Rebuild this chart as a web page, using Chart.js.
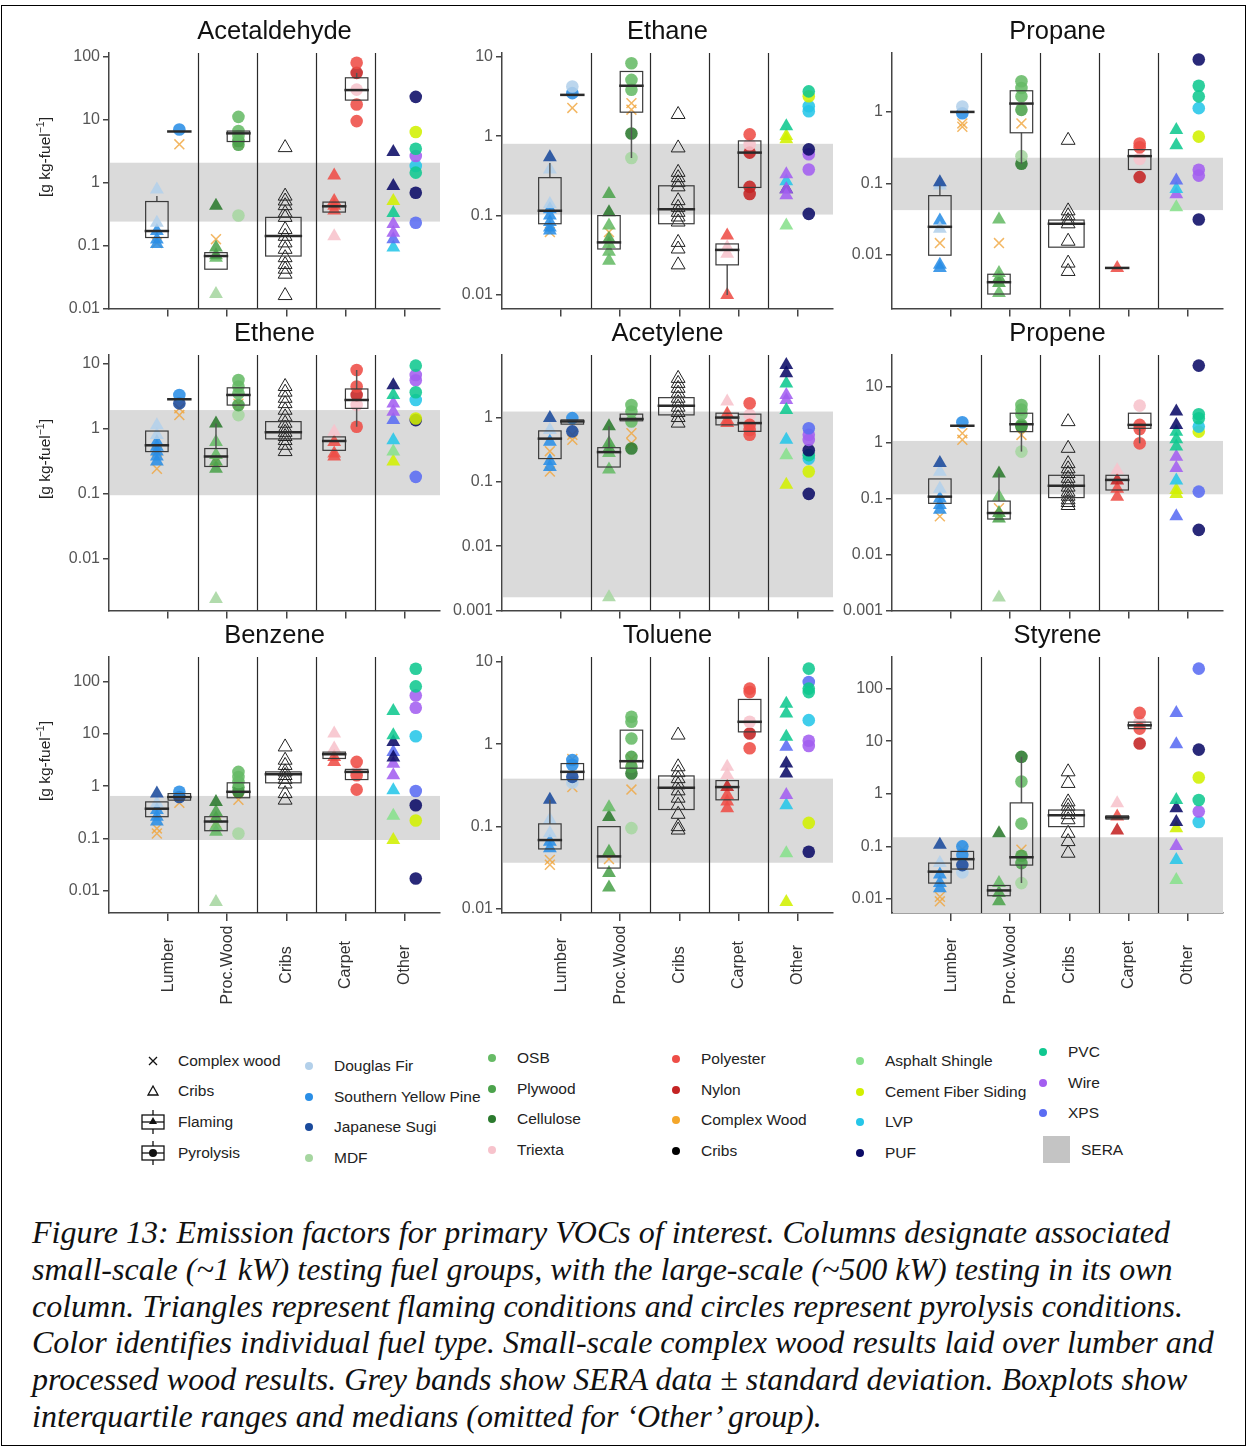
<!DOCTYPE html>
<html>
<head>
<meta charset="utf-8">
<script src="https://cdn.jsdelivr.net/npm/chart.js@4.4.1/dist/chart.umd.min.js"></script>
<style>
  body { margin: 0; width: 1248px; height: 1447px; background: #fff; position: relative; overflow: hidden; font-family: "Liberation Sans", Arial, sans-serif; }
  #moldura { position: absolute; left: 1px; top: 5px; width: 1245px; height: 1441px; border: 1.5px solid #000; box-sizing: border-box; }
  canvas { position: absolute; }
  .leg { position: absolute; font-size: 15.5px; color: #222; white-space: nowrap; line-height: 18px; }
  .ponto { position: absolute; width: 8px; height: 8px; border-radius: 50%; }
  .linha { position: absolute; left: 32px; font-family: "Liberation Serif", "Times New Roman", serif; font-style: italic; font-size: 32px; line-height: 36px; color: #111; white-space: nowrap; }
</style>
</head>
<body>
<div id="moldura"></div>
<div id="legenda"></div>
<div id="legenda-texto"></div>
<script>
const grupos = ['Lumber', 'Proc.Wood', 'Cribs', 'Carpet', 'Other'];
const compostos = ['Acetaldehyde', 'Ethane', 'Propane', 'Ethene', 'Acetylene', 'Propene', 'Benzene', 'Toluene', 'Styrene'];
const eixoMin = [0.01, 0.0068, 0.00176, 0.0016, 0.001, 0.001, 0.0037, 0.0088, 0.0054];
const eixoMax = [115, 11.1, 6.7, 13.4, 9.4, 36.8, 300, 11.5, 398];
const seraMin = [0.24, 0.103, 0.042, 0.094, 0.0016, 0.119, 0.093, 0.036, 0.0001];
const seraMax = [2.07, 0.8, 0.228, 1.91, 1.24, 1.07, 0.65, 0.38, 0.149];
const decadas = [0.001, 0.01, 0.1, 1, 10, 100];

const combustiveis = ['DF', 'SYP', 'JS', 'MDF', 'OSB', 'PLY', 'CEL', 'TRI', 'POL', 'NYL', 'CW', 'CRB', 'ASH', 'CFS', 'LVP', 'PUF', 'PVC', 'WIR', 'XPS'];
const nomesCombustiveis = ['Douglas Fir', 'Southern Yellow Pine', 'Japanese Sugi', 'MDF', 'OSB', 'Plywood', 'Cellulose', 'Triexta', 'Polyester', 'Nylon', 'Complex Wood', 'Cribs', 'Asphalt Shingle', 'Cement Fiber Siding', 'LVP', 'PUF', 'PVC', 'Wire', 'XPS'];
const coresCombustiveis = ['#b3d0ea', '#2a8ee6', '#1a4a9c', '#a6d6a0', '#67bb66', '#4ca34c', '#2b7a2e', '#f7c3cc', '#ee4d47', '#c42323', '#f4a62a', '#000000', '#88e08c', '#d2f000', '#26c6e8', '#0b0b66', '#10c890', '#a35ef0', '#5a6cf3'];

// [grupo, condicao (F = flaming, P = pyrolysis), combustivel, valores]
const pontosAcetaldehyde = [
  [0, 'F', 'DF', [0.78, 0.23]], [0, 'F', 'SYP', [0.17, 0.125, 0.106]], [0, 'F', 'CW', [0.11]],
  [0, 'P', 'SYP', [7.0]], [0, 'P', 'CW', [4.06]],
  [1, 'F', 'CEL', [0.43]], [1, 'F', 'PLY', [0.093, 0.07]], [1, 'F', 'OSB', [0.064]], [1, 'F', 'MDF', [0.017]], [1, 'F', 'CW', [0.126]],
  [1, 'P', 'OSB', [11.1, 6.6, 5.5]], [1, 'P', 'PLY', [4.6, 4.0]], [1, 'P', 'MDF', [0.30]], [1, 'P', 'CW', [4.3]],
  [2, 'F', 'CRB', [3.6, 0.61, 0.51, 0.43, 0.33, 0.28, 0.18, 0.14, 0.11, 0.087, 0.064, 0.05, 0.042, 0.035, 0.016]],
  [3, 'F', 'POL', [1.3, 0.51, 0.43, 0.36]], [3, 'F', 'TRI', [0.14]],
  [3, 'P', 'POL', [80.6, 17.5, 9.5]], [3, 'P', 'NYL', [55.6]], [3, 'P', 'TRI', [30.1]],
  [4, 'F', 'PUF', [3.07, 0.885]], [4, 'F', 'CFS', [0.51]], [4, 'F', 'PVC', [0.33]], [4, 'F', 'WIR', [0.22, 0.16]], [4, 'F', 'XPS', [0.126]], [4, 'F', 'LVP', [0.093]],
  [4, 'P', 'PUF', [23.1, 0.69]], [4, 'P', 'CFS', [6.37]], [4, 'P', 'PVC', [3.46, 1.44]], [4, 'P', 'WIR', [2.65]], [4, 'P', 'LVP', [1.84]], [4, 'P', 'XPS', [0.23]]
];
const pontosEthane = [
  [0, 'F', 'JS', [0.54]], [0, 'F', 'DF', [0.38, 0.14]], [0, 'F', 'SYP', [0.12, 0.1, 0.083, 0.071, 0.065]], [0, 'F', 'CW', [0.062]],
  [0, 'P', 'DF', [4.2]], [0, 'P', 'SYP', [3.47]], [0, 'P', 'CW', [2.26]],
  [1, 'F', 'PLY', [0.187, 0.051]], [1, 'F', 'CEL', [0.11]], [1, 'F', 'OSB', [0.075, 0.044, 0.035, 0.027]], [1, 'F', 'CW', [0.062]],
  [1, 'P', 'OSB', [8.25, 5.1, 3.83]], [1, 'P', 'CEL', [1.08]], [1, 'P', 'MDF', [0.53]], [1, 'P', 'CW', [2.6, 2.15]],
  [2, 'F', 'CRB', [1.87, 0.71, 0.35, 0.30, 0.26, 0.23, 0.154, 0.127, 0.11, 0.096, 0.083, 0.046, 0.038, 0.024]],
  [3, 'F', 'POL', [0.056, 0.01]], [3, 'F', 'TRI', [0.04, 0.033]],
  [3, 'P', 'POL', [1.05]], [3, 'P', 'TRI', [0.79]], [3, 'P', 'NYL', [0.62, 0.23, 0.187]],
  [4, 'F', 'PVC', [1.33]], [4, 'F', 'CFS', [1.0, 0.91]], [4, 'F', 'WIR', [0.33, 0.215, 0.18]], [4, 'F', 'LVP', [0.27]], [4, 'F', 'PUF', [0.215]], [4, 'F', 'ASH', [0.075]],
  [4, 'P', 'PVC', [3.65]], [4, 'P', 'CFS', [3.17]], [4, 'P', 'LVP', [2.37, 2.05]], [4, 'P', 'PUF', [0.68, 0.105]], [4, 'P', 'WIR', [0.59, 0.38]]
];
const pontosPropane = [
  [0, 'F', 'JS', [0.103]], [0, 'F', 'DF', [0.093, 0.023]], [0, 'F', 'SYP', [0.03, 0.0072, 0.0065]], [0, 'F', 'CW', [0.0145]],
  [0, 'P', 'DF', [1.19]], [0, 'P', 'SYP', [0.96]], [0, 'P', 'CW', [0.69, 0.62]],
  [1, 'F', 'OSB', [0.031, 0.0055, 0.0029]], [1, 'F', 'PLY', [0.0047, 0.0040]], [1, 'F', 'CW', [0.0145]],
  [1, 'P', 'OSB', [2.69, 2.16, 1.65]], [1, 'P', 'PLY', [1.07]], [1, 'P', 'MDF', [0.24]], [1, 'P', 'CEL', [0.188]], [1, 'P', 'CW', [0.69]],
  [2, 'F', 'CRB', [0.40, 0.041, 0.035, 0.030, 0.027, 0.0154, 0.0076, 0.0058]],
  [3, 'F', 'POL', [0.0065]],
  [3, 'P', 'POL', [0.36, 0.32]], [3, 'P', 'TRI', [0.22]], [3, 'P', 'NYL', [0.122]],
  [4, 'F', 'PVC', [0.56, 0.34]], [4, 'F', 'XPS', [0.109]], [4, 'F', 'LVP', [0.083]], [4, 'F', 'WIR', [0.07]], [4, 'F', 'ASH', [0.046]],
  [4, 'P', 'PUF', [5.44, 0.031]], [4, 'P', 'PVC', [2.33, 1.65]], [4, 'P', 'LVP', [1.13]], [4, 'P', 'CFS', [0.45]], [4, 'P', 'WIR', [0.155, 0.128]]
];
const pontosEthene = [
  [0, 'F', 'DF', [1.12, 0.79]], [0, 'F', 'SYP', [0.62, 0.52, 0.44, 0.37, 0.31]], [0, 'F', 'CW', [0.44, 0.24]],
  [0, 'P', 'SYP', [3.26]], [0, 'P', 'JS', [2.42]], [0, 'P', 'CW', [2.03, 1.6]],
  [1, 'F', 'CEL', [1.19]], [1, 'F', 'OSB', [0.62, 0.39]], [1, 'F', 'PLY', [0.31, 0.24]], [1, 'F', 'MDF', [0.0024]], [1, 'F', 'CW', [0.31]],
  [1, 'P', 'OSB', [5.54, 4.4, 3.45]], [1, 'P', 'PLY', [2.28]], [1, 'P', 'MDF', [1.6]], [1, 'P', 'CW', [2.4]],
  [2, 'F', 'CRB', [4.4, 3.6, 2.9, 2.4, 1.9, 1.5, 1.2, 1.0, 0.87, 0.75, 0.65, 0.55, 0.44]],
  [3, 'F', 'TRI', [0.89]], [3, 'F', 'POL', [0.62, 0.41, 0.37]],
  [3, 'P', 'POL', [7.9, 4.4, 1.06]], [3, 'P', 'NYL', [3.26]], [3, 'P', 'TRI', [2.28]],
  [4, 'F', 'PUF', [4.6]], [4, 'F', 'PVC', [3.26]], [4, 'F', 'WIR', [2.42, 1.8]], [4, 'F', 'XPS', [1.34]], [4, 'F', 'LVP', [0.66]], [4, 'F', 'ASH', [0.44]], [4, 'F', 'CFS', [0.31]],
  [4, 'P', 'PVC', [9.2, 3.58]], [4, 'P', 'WIR', [6.6, 5.5]], [4, 'P', 'LVP', [2.73]], [4, 'P', 'CFS', [1.42]], [4, 'P', 'PUF', [1.34]], [4, 'P', 'XPS', [0.18]]
];
const pontosAcetylene = [
  [0, 'F', 'JS', [0.98]], [0, 'F', 'DF', [0.64]], [0, 'F', 'SYP', [0.42, 0.21, 0.17]], [0, 'F', 'CW', [0.30, 0.145]],
  [0, 'P', 'SYP', [0.98]], [0, 'P', 'JS', [0.61]], [0, 'P', 'CW', [0.54, 0.45]],
  [1, 'F', 'CEL', [0.73]], [1, 'F', 'PLY', [0.40, 0.33]], [1, 'F', 'OSB', [0.28, 0.155]], [1, 'F', 'MDF', [0.0016]],
  [1, 'P', 'OSB', [1.57, 1.24, 0.87]], [1, 'P', 'CEL', [0.33]], [1, 'P', 'CW', [0.57, 0.40]],
  [2, 'F', 'CRB', [4.07, 3.4, 2.85, 2.4, 2.0, 1.7, 1.45, 1.2, 1.0, 0.82]],
  [3, 'F', 'TRI', [1.77]], [3, 'F', 'POL', [1.15, 0.92, 0.82]],
  [3, 'P', 'POL', [1.67, 0.77, 0.64, 0.54]], [3, 'P', 'TRI', [1.1]],
  [4, 'F', 'PUF', [6.56, 4.87]], [4, 'F', 'PVC', [3.4, 1.31]], [4, 'F', 'WIR', [2.25, 1.88]], [4, 'F', 'LVP', [0.45]], [4, 'F', 'ASH', [0.26]], [4, 'F', 'CFS', [0.09]],
  [4, 'P', 'XPS', [0.68]], [4, 'P', 'WIR', [0.54, 0.45]], [4, 'P', 'PUF', [0.31, 0.065]], [4, 'P', 'PVC', [0.26]], [4, 'P', 'LVP', [0.23]], [4, 'P', 'CFS', [0.145]]
];
const pontosPropene = [
  [0, 'F', 'JS', [0.43]], [0, 'F', 'DF', [0.30, 0.15]], [0, 'F', 'SYP', [0.1, 0.077, 0.063]], [0, 'F', 'CW', [0.048]],
  [0, 'P', 'SYP', [2.31]], [0, 'P', 'CW', [1.47, 1.12]],
  [1, 'F', 'CEL', [0.28]], [1, 'F', 'OSB', [0.108]], [1, 'F', 'PLY', [0.055, 0.044]], [1, 'F', 'MDF', [0.0017]], [1, 'F', 'CW', [0.067]],
  [1, 'P', 'OSB', [4.7, 3.9, 3.2]], [1, 'P', 'PLY', [2.07]], [1, 'P', 'CEL', [1.93]], [1, 'P', 'MDF', [0.69]], [1, 'P', 'CW', [1.37]],
  [2, 'F', 'CRB', [2.37, 0.79, 0.42, 0.34, 0.28, 0.23, 0.19, 0.16, 0.13, 0.11, 0.095, 0.085, 0.075]],
  [3, 'F', 'TRI', [0.32]], [3, 'F', 'NYL', [0.21]], [3, 'F', 'POL', [0.15, 0.108]],
  [3, 'P', 'TRI', [4.58]], [3, 'P', 'POL', [2.07, 1.75, 0.97]],
  [4, 'F', 'PUF', [3.58, 2.07]], [4, 'F', 'PVC', [1.57, 1.15, 0.85]], [4, 'F', 'WIR', [0.56, 0.35]], [4, 'F', 'LVP', [0.21]], [4, 'F', 'CFS', [0.142, 0.12]], [4, 'F', 'XPS', [0.048]],
  [4, 'P', 'PUF', [23.8, 0.0275]], [4, 'P', 'PVC', [3.21, 2.73]], [4, 'P', 'LVP', [1.93]], [4, 'P', 'CFS', [1.57]], [4, 'P', 'XPS', [0.133]]
];
const pontosBenzene = [
  [0, 'F', 'JS', [0.72]], [0, 'F', 'DF', [0.47]], [0, 'F', 'SYP', [0.35, 0.26, 0.21]], [0, 'F', 'CW', [0.155, 0.124]],
  [0, 'P', 'SYP', [0.78]], [0, 'P', 'JS', [0.62]], [0, 'P', 'CW', [0.48]],
  [1, 'F', 'CEL', [0.5]], [1, 'F', 'PLY', [0.32, 0.24]], [1, 'F', 'OSB', [0.17, 0.134]], [1, 'F', 'MDF', [0.006]], [1, 'F', 'CW', [0.2]],
  [1, 'P', 'OSB', [1.88, 1.5, 1.2]], [1, 'P', 'PLY', [0.95]], [1, 'P', 'CEL', [0.78]], [1, 'P', 'MDF', [0.124]], [1, 'P', 'CW', [0.55]],
  [2, 'F', 'CRB', [5.66, 3.15, 2.5, 1.88, 1.6, 1.35, 1.1, 0.72, 0.54]],
  [3, 'F', 'TRI', [10.2, 5.3]], [3, 'F', 'POL', [3.64, 2.92]],
  [3, 'P', 'POL', [2.92, 1.62, 0.86]], [3, 'P', 'TRI', [1.88]],
  [4, 'F', 'PVC', [27.6, 9.5]], [4, 'F', 'PUF', [7.06, 3.54]], [4, 'F', 'XPS', [4.5]], [4, 'F', 'WIR', [2.7, 1.62]], [4, 'F', 'LVP', [0.84]], [4, 'F', 'ASH', [0.27]], [4, 'F', 'CFS', [0.093]],
  [4, 'P', 'PVC', [178, 82]], [4, 'P', 'WIR', [55, 32]], [4, 'P', 'LVP', [9.07]], [4, 'P', 'XPS', [0.81]], [4, 'P', 'PUF', [0.43, 0.017]], [4, 'P', 'CFS', [0.22]]
];
const pontosToluene = [
  [0, 'F', 'JS', [0.21]], [0, 'F', 'DF', [0.12, 0.082]], [0, 'F', 'SYP', [0.065, 0.054]], [0, 'F', 'CW', [0.039, 0.034]],
  [0, 'P', 'SYP', [0.64, 0.56]], [0, 'P', 'JS', [0.40]], [0, 'P', 'DF', [0.34]], [0, 'P', 'CW', [0.66, 0.30]],
  [1, 'F', 'OSB', [0.17]], [1, 'F', 'CEL', [0.13]], [1, 'F', 'PLY', [0.049, 0.027, 0.018]], [1, 'F', 'CW', [0.04]],
  [1, 'P', 'OSB', [2.15, 1.87, 1.17]], [1, 'P', 'PLY', [0.70, 0.53]], [1, 'P', 'CEL', [0.44]], [1, 'P', 'MDF', [0.095]], [1, 'P', 'CW', [0.66, 0.28]],
  [2, 'F', 'CRB', [1.29, 0.53, 0.45, 0.38, 0.32, 0.27, 0.22, 0.18, 0.14, 0.099, 0.09]],
  [3, 'F', 'TRI', [0.53, 0.42]], [3, 'F', 'NYL', [0.30]], [3, 'F', 'POL', [0.24, 0.2, 0.166]],
  [3, 'P', 'POL', [4.74, 4.3, 0.89]], [3, 'P', 'TRI', [1.87]], [3, 'P', 'NYL', [1.35]],
  [4, 'F', 'PVC', [3.1, 2.36, 1.23]], [4, 'F', 'XPS', [0.93]], [4, 'F', 'PUF', [0.58, 0.44]], [4, 'F', 'WIR', [0.24]], [4, 'F', 'LVP', [0.18]], [4, 'F', 'ASH', [0.047]], [4, 'F', 'CFS', [0.012]],
  [4, 'P', 'PVC', [8.3, 4.74, 4.3]], [4, 'P', 'XPS', [5.7]], [4, 'P', 'LVP', [1.96]], [4, 'P', 'WIR', [1.1, 0.95]], [4, 'P', 'CFS', [0.11]], [4, 'P', 'PUF', [0.049]]
];
const pontosStyrene = [
  [0, 'F', 'JS', [0.107]], [0, 'F', 'DF', [0.048]], [0, 'F', 'SYP', [0.029, 0.02, 0.016]], [0, 'F', 'CW', [0.011, 0.009]],
  [0, 'P', 'SYP', [0.1, 0.069]], [0, 'P', 'JS', [0.044]], [0, 'P', 'DF', [0.032]], [0, 'P', 'CW', [0.088]],
  [1, 'F', 'CEL', [0.177]], [1, 'F', 'OSB', [0.02]], [1, 'F', 'PLY', [0.013, 0.009]],
  [1, 'P', 'CEL', [5.03]], [1, 'P', 'OSB', [1.71, 0.27]], [1, 'P', 'PLY', [0.066, 0.048]], [1, 'P', 'MDF', [0.02]], [1, 'P', 'CW', [0.086]],
  [2, 'F', 'CRB', [2.61, 1.57, 0.7, 0.58, 0.48, 0.4, 0.32, 0.177, 0.123, 0.074]],
  [3, 'F', 'TRI', [0.66]], [3, 'F', 'POL', [0.37]], [3, 'F', 'NYL', [0.2]],
  [3, 'P', 'POL', [34.4, 17.3]], [3, 'P', 'TRI', [23]], [3, 'P', 'NYL', [9.0]],
  [4, 'F', 'XPS', [34.4, 8.7]], [4, 'F', 'PVC', [0.76]], [4, 'F', 'PUF', [0.53, 0.29]], [4, 'F', 'CFS', [0.22]], [4, 'F', 'WIR', [0.102]], [4, 'F', 'LVP', [0.055]], [4, 'F', 'ASH', [0.023]],
  [4, 'P', 'XPS', [239]], [4, 'P', 'PUF', [6.9]], [4, 'P', 'CFS', [2.04]], [4, 'P', 'PVC', [0.76]], [4, 'P', 'WIR', [0.46]], [4, 'P', 'LVP', [0.29]]
];

// [grupo, condicao, bigode inf, q1, mediana, q3, bigode sup]
const caixasAcetaldehyde = [[0, 'F', 0.134, 0.134, 0.17, 0.5, 0.61], [0, 'P', 6.5, 6.5, 6.5, 6.5, 6.5], [1, 'F', 0.042, 0.042, 0.068, 0.077, 0.077], [1, 'P', 4.5, 4.5, 6.07, 6.6, 6.6], [2, 'F', 0.068, 0.068, 0.142, 0.28, 0.28], [3, 'F', 0.34, 0.34, 0.42, 0.49, 0.49], [3, 'P', 20.5, 20.5, 29.6, 46.4, 55.6]];
const caixasEthane = [[0, 'F', 0.079, 0.079, 0.115, 0.30, 0.46], [0, 'P', 3.3, 3.3, 3.3, 3.3, 3.3], [1, 'F', 0.038, 0.038, 0.046, 0.1, 0.1], [1, 'P', 0.53, 2.0, 4.3, 6.5, 6.5], [2, 'F', 0.079, 0.079, 0.12, 0.237, 0.237], [3, 'F', 0.01, 0.024, 0.037, 0.044, 0.044], [3, 'P', 0.226, 0.226, 0.62, 0.87, 0.87]];
const caixasPropane = [[0, 'F', 0.0098, 0.0098, 0.0245, 0.067, 0.093], [0, 'P', 1.0, 1.0, 1.0, 1.0, 1.0], [1, 'F', 0.0028, 0.0028, 0.0041, 0.0053, 0.0053], [1, 'P', 0.188, 0.51, 1.31, 1.98, 1.98], [2, 'F', 0.0127, 0.0127, 0.027, 0.0305, 0.0305], [3, 'F', 0.0065, 0.0065, 0.0065, 0.0065, 0.0065], [3, 'P', 0.156, 0.156, 0.24, 0.296, 0.296]];
const caixasEthene = [[0, 'F', 0.44, 0.44, 0.55, 0.91, 0.91], [0, 'P', 2.8, 2.8, 2.8, 2.8, 2.8], [1, 'F', 0.26, 0.26, 0.37, 0.49, 1.19], [1, 'P', 2.28, 2.28, 3.26, 4.2, 4.2], [2, 'F', 0.69, 0.69, 0.87, 1.27, 1.27], [3, 'F', 0.46, 0.46, 0.64, 0.74, 0.74], [3, 'P', 1.06, 2.03, 2.73, 4.03, 7.9]];
const caixasAcetylene = [[0, 'F', 0.23, 0.23, 0.47, 0.62, 0.62], [0, 'P', 0.79, 0.79, 0.87, 0.92, 0.92], [1, 'F', 0.17, 0.17, 0.29, 0.34, 0.73], [1, 'P', 0.89, 0.89, 0.95, 1.13, 1.13], [2, 'F', 1.1, 1.1, 1.53, 2.04, 2.04], [3, 'F', 0.77, 0.77, 1.0, 1.17, 1.17], [3, 'P', 0.61, 0.61, 0.82, 1.13, 1.13]];
const caixasPropene = [[0, 'F', 0.082, 0.082, 0.108, 0.224, 0.224], [0, 'P', 2.0, 2.0, 2.0, 2.0, 2.0], [1, 'F', 0.043, 0.043, 0.055, 0.09, 0.28], [1, 'P', 0.69, 1.57, 2.13, 3.35, 3.35], [2, 'F', 0.104, 0.104, 0.17, 0.26, 0.26], [3, 'F', 0.142, 0.142, 0.215, 0.26, 0.26], [3, 'P', 0.97, 1.8, 2.07, 3.35, 3.35]];
const caixasBenzene = [[0, 'F', 0.26, 0.26, 0.37, 0.5, 0.5], [0, 'P', 0.54, 0.54, 0.62, 0.72, 0.72], [1, 'F', 0.14, 0.14, 0.21, 0.26, 0.26], [1, 'P', 0.6, 0.6, 0.78, 1.16, 1.16], [2, 'F', 1.16, 1.16, 1.7, 1.88, 1.88], [3, 'F', 3.4, 3.4, 4.1, 4.5, 4.5], [3, 'P', 1.34, 1.34, 1.88, 2.1, 2.1]];
const caixasToluene = [[0, 'F', 0.053, 0.053, 0.068, 0.107, 0.21], [0, 'P', 0.37, 0.37, 0.46, 0.58, 0.58], [1, 'F', 0.031, 0.031, 0.043, 0.099, 0.099], [1, 'P', 0.51, 0.51, 0.62, 1.48, 1.48], [2, 'F', 0.16, 0.16, 0.295, 0.41, 0.41], [3, 'F', 0.21, 0.21, 0.30, 0.36, 0.36], [3, 'P', 1.41, 1.41, 1.87, 3.5, 3.5]];
const caixasStyrene = [[0, 'F', 0.02, 0.02, 0.033, 0.048, 0.048], [0, 'P', 0.037, 0.037, 0.057, 0.08, 0.08], [1, 'F', 0.0115, 0.0115, 0.0145, 0.018, 0.018], [1, 'P', 0.02, 0.044, 0.062, 0.67, 5.03], [2, 'F', 0.237, 0.237, 0.39, 0.49, 0.49], [3, 'F', 0.33, 0.33, 0.355, 0.38, 0.38], [3, 'P', 17.3, 17.3, 20, 23, 23]];

const pontos = [pontosAcetaldehyde, pontosEthane, pontosPropane, pontosEthene, pontosAcetylene, pontosPropene, pontosBenzene, pontosToluene, pontosStyrene];
const caixas = [caixasAcetaldehyde, caixasEthane, caixasPropane, caixasEthene, caixasAcetylene, caixasPropene, caixasBenzene, caixasToluene, caixasStyrene];

const FONTE = '"Liberation Sans", Arial, sans-serif';
const colunaX = [109, 502, 892];
const linhaY = [53, 355, 657];
const LARG = 336, ALT = 256;

const comAlfa = (hex, a) => {
  const n = parseInt(hex.slice(1), 16);
  return `rgba(${n >> 16},${(n >> 8) & 255},${n & 255},${a})`;
};
const desloc = (g, c) => g === 2 ? -0.02 : (c === 'F' ? -0.19 : 0.19);

compostos.forEach((nome, i) => {
  const col = i % 3, lin = Math.floor(i / 3);
  const altX = lin === 2 ? 110 : 12;
  const canvas = document.createElement('canvas');
  canvas.width = 80 + LARG + 4;
  canvas.height = 45 + ALT + altX;
  canvas.style.left = (colunaX[col] - 80) + 'px';
  canvas.style.top = (linhaY[lin] - 45) + 'px';
  canvas.style.width = canvas.width + 'px';
  canvas.style.height = canvas.height + 'px';
  document.body.appendChild(canvas);

  const datasets = pontos[i].map(([g, c, f, vals]) => {
    const cor = coresCombustiveis[combustiveis.indexOf(f)];
    const base = { label: f + ' ' + c, data: vals.map(v => ({ x: g + desloc(g, c), y: v })) };
    if (f === 'CW') return { ...base, pointStyle: 'crossRot', pointRadius: 7, borderColor: 'rgba(240,165,60,0.8)', borderWidth: 1.5, backgroundColor: 'transparent' };
    if (f === 'CRB') return { ...base, pointStyle: 'triangle', pointRadius: 8, borderColor: '#222', borderWidth: 1, backgroundColor: 'rgba(255,255,255,0)' };
    return { ...base, pointStyle: c === 'F' ? 'triangle' : 'circle', pointRadius: c === 'F' ? 8 : 6.3, backgroundColor: comAlfa(cor, 0.88), borderWidth: 0 };
  });

  // faixa SERA e separadores de grupo
  const fundo = {
    id: 'fundo',
    beforeDatasetsDraw(chart) {
      const { ctx, chartArea: a, scales: { x, y } } = chart;
      ctx.save();
      ctx.beginPath(); ctx.rect(a.left, a.top, a.right - a.left, a.bottom - a.top); ctx.clip();
      const y1 = y.getPixelForValue(seraMax[i]), y2 = y.getPixelForValue(seraMin[i]);
      ctx.fillStyle = '#dadada';
      ctx.fillRect(a.left + 1, y1, a.right - a.left - 1, y2 - y1);
      ctx.restore();
      ctx.save();
      ctx.strokeStyle = '#2a2a2a'; ctx.lineWidth = 1.2;
      for (let k = 0; k < grupos.length - 1; k++) {
        const px = Math.round(x.getPixelForValue(k + 0.5)) + 0.5;
        ctx.beginPath(); ctx.moveTo(px, a.top); ctx.lineTo(px, a.bottom); ctx.stroke();
      }
      ctx.restore();
    }
  };

  // boxplots
  const boxplots = {
    id: 'boxplots',
    afterDatasetsDraw(chart) {
      const { ctx, scales: { x, y } } = chart;
      ctx.save();
      caixas[i].forEach(([g, c, lo, q1, med, q3, hi]) => {
        const xc = g + (g === 2 ? -0.05 : desloc(g, c)), hw = g === 2 ? 0.3 : 0.19;
        const xl = x.getPixelForValue(xc - hw), xr = x.getPixelForValue(xc + hw), xm = x.getPixelForValue(xc);
        const yLo = y.getPixelForValue(lo), yQ1 = y.getPixelForValue(q1), yMed = y.getPixelForValue(med);
        const yQ3 = y.getPixelForValue(q3), yHi = y.getPixelForValue(hi);
        ctx.strokeStyle = '#555'; ctx.lineWidth = 1.5;
        ctx.beginPath(); ctx.moveTo(xm, yLo); ctx.lineTo(xm, yQ1); ctx.moveTo(xm, yQ3); ctx.lineTo(xm, yHi); ctx.stroke();
        ctx.strokeStyle = '#3a3a3a'; ctx.lineWidth = 1.2;
        ctx.strokeRect(xl, yQ3, xr - xl, yQ1 - yQ3);
        ctx.strokeStyle = '#2a2a2a'; ctx.lineWidth = 2.5;
        ctx.beginPath(); ctx.moveTo(xl - 1, yMed); ctx.lineTo(xr + 1, yMed); ctx.stroke();
      });
      ctx.restore();
    }
  };

  // rotulos: titulo do eixo y (coluna 1) e grupos (linha 3)
  const rotulos = {
    id: 'rotulos',
    afterDraw(chart) {
      const { ctx, chartArea: a, scales: { x } } = chart;
      ctx.save();
      ctx.fillStyle = '#222';
      if (col === 0) {
        ctx.translate(a.left - 63, a.top + 104);
        ctx.rotate(-Math.PI / 2);
        ctx.textBaseline = 'middle';
        ctx.font = '15.5px ' + FONTE;
        const p1 = '[g kg-fuel', p2 = '\u22121', p3 = ']';
        const w1 = ctx.measureText(p1).width, w3 = ctx.measureText(p3).width;
        ctx.font = '10.5px ' + FONTE;
        const w2 = ctx.measureText(p2).width;
        let px = -(w1 + w2 + w3) / 2;
        ctx.font = '15.5px ' + FONTE; ctx.fillText(p1, px, 0); px += w1;
        ctx.font = '10.5px ' + FONTE; ctx.fillText(p2, px, -5); px += w2;
        ctx.font = '15.5px ' + FONTE; ctx.fillText(p3, px, 0);
        ctx.setTransform(1, 0, 0, 1, 0, 0);
      }
      if (lin === 2) {
        ctx.font = '16px ' + FONTE; ctx.fillStyle = '#333';
        ctx.textAlign = 'center'; ctx.textBaseline = 'middle';
        grupos.forEach((g, k) => {
          ctx.save();
          ctx.translate(x.getPixelForValue(k), a.bottom + 52);
          ctx.rotate(-Math.PI / 2);
          ctx.fillText(g, 0, 0);
          ctx.restore();
        });
      }
      ctx.restore();
    }
  };

  new Chart(canvas, {
    type: 'scatter',
    data: { datasets },
    plugins: [fundo, boxplots, rotulos],
    options: {
      responsive: false,
      animation: false,
      devicePixelRatio: 1,
      events: [],
      layout: { padding: { left: 0, right: 4, top: 0, bottom: 0 } },
      plugins: {
        legend: { display: false },
        tooltip: { enabled: false },
        title: {
          display: true, text: nome, fullSize: false, color: '#111',
          font: { size: 25.5, family: FONTE, weight: 'normal', lineHeight: 1.2 },
          padding: { top: 9, bottom: 5.4 }
        }
      },
      scales: {
        x: {
          type: 'linear', min: -1, max: 4.6, bounds: 'data',
          afterBuildTicks: s => { s.ticks = grupos.map((_, k) => ({ value: k })); },
          afterFit: s => { s.height = altX; },
          ticks: { display: false },
          grid: { drawOnChartArea: false, drawTicks: true, tickLength: 8, color: '#444', lineWidth: 1.5 },
          border: { display: true, color: '#444', width: 1.5 }
        },
        y: {
          type: 'logarithmic', min: eixoMin[i], max: eixoMax[i],
          afterBuildTicks: s => { s.ticks = decadas.filter(v => v >= eixoMin[i] && v <= eixoMax[i]).map(v => ({ value: v })); },
          afterFit: s => { s.width = 80; },
          ticks: { color: '#555', font: { size: 16, family: FONTE }, padding: 3, autoSkip: false, callback: v => String(v) },
          grid: { drawOnChartArea: false, drawTicks: true, tickLength: 6, color: '#444', lineWidth: 1.5 },
          border: { display: true, color: '#444', width: 1.5 }
        }
      }
    }
  });
});

// --- legenda ---
const legenda = document.getElementById('legenda');
const addTexto = (txt, x, y) => {
  const d = document.createElement('div');
  d.className = 'leg'; d.textContent = txt;
  d.style.left = x + 'px'; d.style.top = (y - 9) + 'px';
  legenda.appendChild(d);
};
const colunasLegenda = [
  [['DF', 'SYP', 'JS', 'MDF'], 309, 1066],
  [['OSB', 'PLY', 'CEL', 'TRI'], 492, 1058],
  [['POL', 'NYL', 'CW', 'CRB'], 676, 1059],
  [['ASH', 'CFS', 'LVP', 'PUF'], 860, 1061],
  [['PVC', 'WIR', 'XPS'], 1043, 1052]
];
colunasLegenda.forEach(([chaves, x0, y0]) => {
  chaves.forEach((k, j) => {
    const idx = combustiveis.indexOf(k);
    const y = y0 + j * 30.7;
    const p = document.createElement('div');
    p.className = 'ponto';
    p.style.background = coresCombustiveis[idx];
    p.style.left = (x0 - 4) + 'px'; p.style.top = (y - 4) + 'px';
    legenda.appendChild(p);
    addTexto(nomesCombustiveis[idx], x0 + 25, y);
  });
});
const sera = document.createElement('div');
sera.style.cssText = 'position:absolute;left:1043px;top:1136px;width:27px;height:27px;background:#c4c4c4;';
legenda.appendChild(sera);
addTexto('SERA', 1081, 1150);

const simbolos = document.createElement('div');
simbolos.innerHTML = `
  <svg style="position:absolute;left:138px;top:1046px" width="30" height="124" viewBox="0 0 30 124">
    <g stroke="#111" stroke-width="1.3" fill="none">
      <path d="M11 11 L19 19 M19 11 L11 19"/>
      <path d="M15 40 L20 49 L10 49 Z"/>
      <path d="M15 64 L15 69 M15 83 L15 88"/><rect x="4" y="69" width="22" height="14"/><path d="M4 76 L26 76"/>
      <path d="M15 95 L15 100 M15 114 L15 119"/><rect x="4" y="100" width="22" height="14"/><path d="M4 107 L26 107"/>
    </g>
    <path d="M15 71 L19 78 L11 78 Z" fill="#111"/>
    <circle cx="15" cy="107" r="4" fill="#111"/>
  </svg>`;
legenda.appendChild(simbolos);
addTexto('Complex wood', 178, 1061);
addTexto('Cribs', 178, 1091);
addTexto('Flaming', 178, 1122);
addTexto('Pyrolysis', 178, 1153);

// --- legenda da figura ---
const linhasTexto = [
  'Figure 13: Emission factors for primary VOCs of interest. Columns designate associated',
  'small-scale (~1 kW) testing fuel groups, with the large-scale (~500 kW) testing in its own',
  'column. Triangles represent flaming conditions and circles represent pyrolysis conditions.',
  'Color identifies individual fuel type. Small-scale complex wood results laid over lumber and',
  'processed wood results. Grey bands show SERA data \u00b1 standard deviation. Boxplots show',
  'interquartile ranges and medians (omitted for \u2018Other\u2019 group).'
];
const caixaTexto = document.getElementById('legenda-texto');
linhasTexto.forEach((t, k) => {
  const d = document.createElement('div');
  d.className = 'linha';
  d.textContent = t;
  d.style.top = (1214 + k * 36.8) + 'px';
  caixaTexto.appendChild(d);
});
</script>
</body>
</html>
